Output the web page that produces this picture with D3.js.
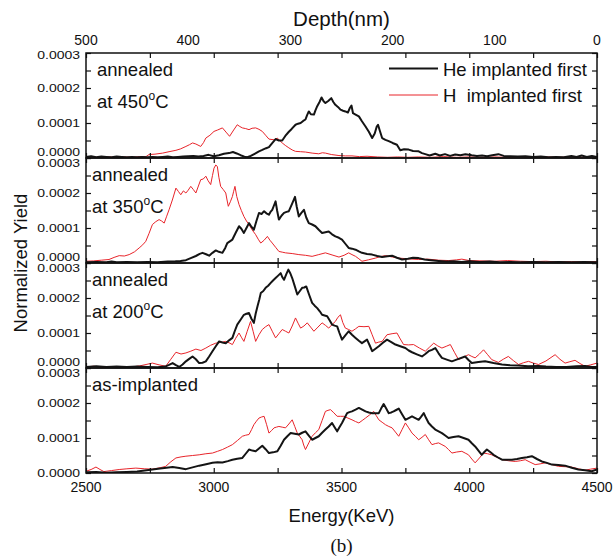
<!DOCTYPE html>
<html><head><meta charset="utf-8">
<script src="https://cdn.jsdelivr.net/npm/d3@7/dist/d3.min.js"></script>
<style>
body{margin:0;background:#fff}
svg text{font-family:"Liberation Sans",Arial,Helvetica,sans-serif;fill:#111}
</style>
</head><body>
<svg id="chart" width="613" height="557"></svg>
<script>
// ---- data (yield values in units of 1e-5) ----
const energyTicks = [2500, 3000, 3500, 4000, 4500];
const energyMinor = [2500, 2750, 3000, 3250, 3500, 3750, 4000, 4250, 4500];
const depthTicks = [500, 400, 300, 200, 100, 0];
const yieldTicks = [0, 10, 20, 30];
const yieldMinor = [0, 5, 10, 15, 20, 25, 30];
const panelTitles = ["annealed", "annealed", "annealed", "as-implanted"];
const panelTemps = ["450", "350", "200", null];
const seriesNames = ["He implanted first", "H  implanted first"];

const he450 = [[2500,0.3],[2520,0.5],[2540,0.2],[2560,0.4],[2580,0.3],[2600,0.2],[2620,0.4],[2640,0.3],[2660,0.2],[2680,0.3],[2700,0.2],[2720,0.3],[2740,0.2],[2760,0.3],[2780,0.2],[2800,0.3],[2820,0.4],[2840,0.2],[2860,0.3],[2880,0.4],[2900,0.5],[2920,0.6],[2940,0.4],[2960,0.6],[2980,0.9],[3000,0.5],[3020,0.8],[3040,1.2],[3060,1.4],[3075,1.7],[3090,1.3],[3105,0.8],[3120,0.4],[3131,0.2],[3145,0.6],[3160,1.2],[3177,1.9],[3190,2.3],[3205,2.8],[3216,3.1],[3228,4.2],[3242,5.4],[3255,5.0],[3268,5.0],[3280,6.3],[3294,7.5],[3305,8.3],[3320,9.5],[3330,9.8],[3340,10],[3350,10.6],[3359,11],[3365,12.2],[3372,13.3],[3380,12.5],[3392,12.4],[3398,13.6],[3405,14.8],[3414,16.0],[3422,17.3],[3430,16.2],[3437,15.7],[3448,16.3],[3460,17.1],[3468,16.0],[3476,15.2],[3486,14.6],[3496,13.8],[3506,13.5],[3515,13.3],[3525,13.0],[3532,14.2],[3539,15.0],[3545,12.8],[3555,12.4],[3568,11.9],[3580,10.5],[3594,9.0],[3607,7.5],[3620,5.7],[3630,7.0],[3638,9.0],[3643,9.5],[3650,7.8],[3659,5.7],[3672,5.2],[3685,4.8],[3700,4.3],[3717,3.8],[3730,2.2],[3745,2.5],[3763,2.4],[3780,2.0],[3802,1.9],[3815,1.4],[3828,1.1],[3845,0.7],[3867,1.2],[3885,0.7],[3905,1.1],[3925,0.6],[3945,1.0],[3965,0.8],[3985,1.1],[4010,0.8],[4030,0.6],[4050,0.7],[4070,0.5],[4090,0.8],[4114,1.1],[4135,0.6],[4160,0.5],[4190,0.4],[4220,0.5],[4250,0.3],[4280,0.4],[4310,0.2],[4340,0.3],[4370,0.2],[4400,0.6],[4420,0.3],[4440,0.7],[4460,0.3],[4480,0.6],[4500,0.3]];

const h450 = [[2500,0.2],[2530,0.3],[2560,0.1],[2590,0.3],[2620,0.2],[2650,0.3],[2680,0.2],[2710,0.4],[2735,0.4],[2747,1.0],[2770,1.1],[2800,1.4],[2825,1.8],[2852,2.2],[2870,2.6],[2891,3.3],[2905,3.8],[2917,4.3],[2930,4.0],[2949,3.3],[2960,4.4],[2969,5.7],[2985,6.5],[3001,7.6],[3015,8.0],[3034,8.6],[3048,7.4],[3062,6.2],[3078,8.0],[3092,9.5],[3102,9.0],[3112,8.6],[3125,8.4],[3138,8.1],[3150,8.5],[3164,8.6],[3177,8.2],[3190,7.6],[3203,6.5],[3216,5.4],[3236,5.2],[3249,5.7],[3258,5.0],[3268,4.3],[3280,3.6],[3294,2.9],[3307,2.3],[3320,1.9],[3340,1.8],[3359,1.7],[3385,1.4],[3411,1.2],[3425,1.5],[3437,1.4],[3460,1.0],[3490,0.7],[3515,0.6],[3541,0.6],[3570,0.4],[3600,0.5],[3640,0.3],[3680,0.2],[3720,0.3],[3760,0.2],[3800,0.3],[3850,0.2],[3900,0.4],[3950,0.2],[4000,0.3],[4050,0.2],[4100,0.3],[4150,0.2],[4200,0.3],[4250,0.2],[4300,0.3],[4350,0.2],[4400,0.3],[4450,0.2],[4500,0.3]];

const he350 = [[2500,0.2],[2540,0.3],[2580,0.2],[2600,0.4],[2620,0.2],[2660,0.3],[2700,0.2],[2740,0.3],[2780,0.2],[2820,0.4],[2850,0.5],[2870,0.6],[2891,0.8],[2910,1.4],[2930,2.0],[2945,2.6],[2956,2.9],[2970,2.5],[2982,2.1],[2995,2.9],[3008,3.6],[3020,3.2],[3034,2.9],[3045,4.3],[3053,5.7],[3063,6.2],[3073,6.7],[3085,8.5],[3099,10.5],[3108,9.8],[3118,8.6],[3128,10.0],[3138,11.4],[3148,10.3],[3157,9.5],[3167,12.0],[3177,14.3],[3187,14.0],[3197,14.8],[3206,14.2],[3216,13.8],[3222,14.6],[3229,15.2],[3236,16.5],[3242,17.6],[3248,15.0],[3255,12.4],[3265,13.5],[3275,14.3],[3285,14.6],[3294,14.8],[3306,16.8],[3318,18.9],[3325,16.0],[3333,13.3],[3343,14.3],[3353,15.2],[3362,13.0],[3372,11.4],[3385,11.0],[3398,10.5],[3411,9.5],[3424,8.6],[3437,8.8],[3450,9.0],[3463,8.2],[3476,7.6],[3490,7.2],[3502,6.7],[3515,5.5],[3528,4.3],[3541,4.1],[3555,3.8],[3568,3.3],[3580,2.9],[3600,2.6],[3620,2.4],[3640,2.0],[3659,1.7],[3680,1.9],[3698,2.1],[3717,1.5],[3737,1.0],[3760,1.2],[3780,1.5],[3802,1.4],[3825,1.0],[3850,0.8],[3880,0.6],[3910,0.4],[3940,0.5],[3970,0.3],[4000,0.5],[4040,0.3],[4080,0.4],[4120,0.2],[4160,0.3],[4200,0.2],[4250,0.3],[4300,0.2],[4350,0.3],[4400,0.2],[4450,0.3],[4500,0.2]];

const h350 = [[2500,0.5],[2530,0.6],[2560,0.8],[2590,1.0],[2610,1.6],[2630,2.1],[2650,2.0],[2669,2.4],[2690,3.2],[2708,4.3],[2722,5.2],[2734,6.2],[2747,8.5],[2760,11.0],[2773,11.8],[2786,12.4],[2796,12.0],[2806,11.4],[2815,13.2],[2825,15.2],[2838,18.0],[2852,21.4],[2862,20.4],[2871,19.5],[2881,20.6],[2891,20.0],[2900,20.8],[2910,21.9],[2920,21.0],[2930,20.0],[2940,22.0],[2949,23.8],[2959,24.0],[2969,24.8],[2978,23.5],[2988,22.4],[2995,25.0],[3001,27.1],[3008,28.0],[3014,27.6],[3020,24.5],[3027,21.9],[3037,21.0],[3047,20.0],[3052,18.0],[3057,16.2],[3065,17.5],[3073,19.0],[3078,20.5],[3083,21.9],[3090,19.0],[3099,16.7],[3108,15.0],[3118,13.3],[3128,12.0],[3138,11.0],[3150,9.5],[3164,8.1],[3174,6.8],[3184,5.7],[3197,6.5],[3210,7.6],[3220,6.5],[3229,5.7],[3242,4.5],[3255,3.3],[3268,3.1],[3281,2.9],[3307,2.7],[3333,2.4],[3359,2.2],[3385,1.9],[3411,2.4],[3437,2.9],[3463,2.3],[3490,1.7],[3510,2.2],[3528,2.9],[3541,2.4],[3555,1.9],[3568,1.2],[3580,0.5],[3605,0.9],[3633,1.4],[3650,1.8],[3672,2.1],[3700,1.7],[3724,1.4],[3760,1.2],[3802,1.0],[3840,1.1],[3880,0.8],[3920,0.7],[3950,0.9],[3971,1.1],[4000,0.7],[4050,0.6],[4100,0.5],[4150,0.7],[4200,0.5],[4250,0.4],[4300,0.5],[4350,0.3],[4400,0.4],[4450,0.3],[4500,0.4]];

const he200 = [[2500,0.3],[2540,0.5],[2580,0.3],[2620,0.4],[2660,0.3],[2700,0.4],[2740,0.3],[2780,0.2],[2810,0.4],[2825,0.9],[2839,1.4],[2852,0.8],[2865,0.3],[2878,1.0],[2891,1.9],[2904,2.6],[2917,3.3],[2930,2.5],[2943,1.4],[2956,1.5],[2969,1.9],[2982,3.3],[2995,4.8],[3008,6.2],[3021,7.6],[3034,7.3],[3047,7.1],[3060,7.9],[3073,8.6],[3082,10.5],[3092,12.4],[3105,13.8],[3118,15.2],[3128,15.5],[3138,15.7],[3148,14.0],[3157,12.9],[3164,15.5],[3171,17.6],[3178,19.5],[3184,21.4],[3194,22.0],[3203,22.9],[3213,23.5],[3223,24.3],[3232,25.0],[3242,25.7],[3252,26.4],[3262,27.1],[3268,26.0],[3275,25.2],[3284,26.8],[3292,28.1],[3300,27.0],[3307,25.7],[3317,23.4],[3327,21.0],[3337,22.0],[3346,22.9],[3354,23.0],[3362,23.3],[3373,21.0],[3385,18.6],[3395,17.8],[3405,17.1],[3415,16.2],[3424,15.2],[3434,15.0],[3444,14.8],[3454,13.6],[3463,12.4],[3473,12.1],[3483,11.9],[3492,10.0],[3502,8.1],[3515,9.3],[3528,10.5],[3541,9.5],[3555,8.6],[3568,7.8],[3580,7.1],[3590,7.6],[3600,8.1],[3610,6.5],[3620,4.8],[3633,5.5],[3646,6.2],[3662,7.2],[3678,8.1],[3695,7.4],[3711,6.7],[3730,6.2],[3750,5.7],[3763,5.0],[3776,4.5],[3795,3.9],[3815,3.3],[3828,4.0],[3841,4.8],[3854,5.2],[3867,5.7],[3880,4.2],[3893,2.9],[3912,2.4],[3932,1.9],[3958,2.6],[3984,3.3],[3997,2.3],[4010,1.4],[4036,1.7],[4062,1.9],[4095,1.4],[4128,1.0],[4160,0.8],[4193,0.7],[4230,0.5],[4270,0.6],[4300,0.4],[4340,0.3],[4380,0.3],[4420,0.5],[4453,0.6],[4480,0.3],[4500,0.3]];

const h200 = [[2500,0.3],[2530,0.5],[2560,0.2],[2590,0.4],[2620,0.3],[2650,0.2],[2680,0.3],[2710,0.6],[2735,1.0],[2760,1.4],[2786,0.9],[2812,0.5],[2832,2.5],[2852,4.5],[2872,4.0],[2891,4.3],[2910,4.8],[2930,5.4],[2950,5.0],[2969,5.7],[2988,6.5],[3008,7.1],[3028,7.3],[3047,7.6],[3060,7.2],[3073,6.7],[3086,8.5],[3099,10.0],[3108,8.8],[3118,7.6],[3131,10.5],[3144,13.3],[3154,10.5],[3164,7.6],[3177,9.5],[3190,11.0],[3203,11.8],[3216,12.4],[3229,10.5],[3242,8.6],[3255,9.8],[3268,11.0],[3281,10.5],[3294,10.0],[3307,12.0],[3320,14.3],[3330,12.8],[3340,11.4],[3353,12.0],[3366,12.9],[3379,11.7],[3392,10.5],[3408,11.7],[3424,12.9],[3437,12.2],[3450,11.4],[3463,12.4],[3476,13.3],[3486,14.5],[3496,15.2],[3505,13.0],[3515,11.4],[3528,11.0],[3541,10.5],[3555,11.2],[3568,11.9],[3588,11.8],[3607,11.9],[3620,9.5],[3633,7.1],[3646,7.4],[3659,7.6],[3668,8.5],[3678,9.5],[3698,9.8],[3717,10.0],[3730,8.3],[3743,6.7],[3763,6.6],[3782,6.7],[3805,5.7],[3828,4.8],[3845,6.0],[3861,7.1],[3877,6.3],[3893,5.7],[3910,6.2],[3926,6.7],[3942,4.5],[3958,2.4],[3978,3.1],[3997,3.8],[4010,3.3],[4023,2.9],[4040,4.0],[4056,5.2],[4072,3.8],[4088,2.4],[4101,2.0],[4114,1.6],[4133,2.5],[4153,3.3],[4173,2.1],[4193,1.0],[4212,1.5],[4232,1.9],[4251,1.4],[4271,1.0],[4300,2.0],[4320,3.0],[4336,3.8],[4355,2.5],[4375,1.4],[4394,1.8],[4414,2.2],[4433,1.3],[4453,0.5],[4475,0.9],[4500,1.4]];

const heAs = [[2500,0.2],[2540,0.3],[2580,0.1],[2620,0.2],[2660,0.3],[2700,0.4],[2730,0.7],[2760,1.0],[2790,1.3],[2815,1.5],[2839,1.7],[2865,1.4],[2891,1.1],[2917,1.6],[2943,2.1],[2970,2.5],[2995,2.9],[3015,3.1],[3034,3.0],[3055,3.4],[3073,3.8],[3092,4.1],[3112,4.3],[3125,5.5],[3138,6.7],[3151,6.4],[3164,6.2],[3177,7.0],[3190,7.8],[3203,6.8],[3216,5.7],[3232,5.9],[3249,6.2],[3262,7.8],[3275,9.5],[3288,10.5],[3301,11.4],[3317,11.2],[3333,11.0],[3346,11.5],[3359,11.9],[3372,10.7],[3385,9.5],[3398,10.0],[3411,10.5],[3424,11.5],[3437,12.4],[3450,13.3],[3463,14.3],[3473,13.1],[3483,11.9],[3492,13.1],[3502,14.3],[3512,15.7],[3522,17.1],[3531,17.4],[3541,17.6],[3555,18.1],[3568,18.6],[3581,18.1],[3594,17.6],[3607,17.3],[3620,17.1],[3633,17.1],[3646,17.1],[3655,18.4],[3665,19.7],[3675,18.4],[3685,17.1],[3695,17.3],[3704,17.6],[3714,18.0],[3724,18.4],[3737,16.8],[3750,15.2],[3763,15.7],[3776,16.2],[3789,15.7],[3802,15.2],[3812,16.1],[3822,17.1],[3831,15.7],[3841,14.3],[3854,13.3],[3867,12.4],[3880,11.9],[3893,11.4],[3906,10.7],[3919,10.0],[3938,10.3],[3958,10.5],[3978,10.0],[3997,9.5],[4010,8.5],[4023,7.6],[4036,6.4],[4049,5.2],[4059,6.0],[4069,6.7],[4082,6.0],[4095,5.2],[4111,4.5],[4128,3.8],[4148,3.8],[4167,3.8],[4187,4.0],[4206,4.3],[4226,4.5],[4245,4.8],[4265,4.0],[4284,3.3],[4304,2.9],[4323,2.4],[4349,2.3],[4375,2.1],[4401,1.5],[4427,1.0],[4453,0.8],[4479,0.5],[4500,1.0]];

const hAs = [[2500,0.5],[2520,1.0],[2539,1.7],[2555,1.0],[2570,0.4],[2600,0.7],[2630,1.0],[2660,1.2],[2695,1.4],[2730,1.2],[2760,1.1],[2790,1.5],[2812,1.9],[2832,3.2],[2852,4.3],[2872,4.6],[2891,4.8],[2917,5.0],[2943,5.2],[2969,5.5],[2995,5.7],[3015,6.2],[3034,6.7],[3054,7.4],[3073,8.1],[3093,9.3],[3112,10.5],[3125,10.8],[3138,11.0],[3148,12.4],[3157,13.8],[3167,14.8],[3177,15.7],[3187,16.0],[3197,16.2],[3207,13.8],[3216,11.4],[3226,12.1],[3236,12.9],[3245,13.1],[3255,13.3],[3268,13.1],[3281,12.9],[3294,14.0],[3307,15.2],[3317,13.3],[3327,11.4],[3336,10.5],[3346,9.5],[3352,8.0],[3359,6.7],[3372,8.6],[3385,10.5],[3398,11.5],[3411,12.4],[3424,15.0],[3437,17.6],[3447,17.9],[3457,18.1],[3470,17.2],[3483,16.2],[3496,16.2],[3509,16.2],[3525,15.7],[3541,15.2],[3555,14.7],[3568,14.3],[3581,15.0],[3594,15.7],[3610,16.6],[3626,17.6],[3636,16.4],[3646,15.2],[3659,14.5],[3672,13.8],[3685,13.3],[3698,12.9],[3711,11.7],[3724,10.5],[3737,12.4],[3750,14.3],[3763,12.9],[3776,11.4],[3789,10.5],[3802,9.5],[3815,10.2],[3828,11.0],[3841,9.5],[3854,8.1],[3867,8.4],[3880,8.6],[3893,8.1],[3906,7.6],[3919,6.7],[3932,5.7],[3951,6.0],[3971,6.2],[3984,5.7],[3997,5.2],[4010,4.0],[4023,2.9],[4040,4.3],[4056,5.7],[4072,5.5],[4088,5.2],[4108,4.5],[4128,3.8],[4154,3.5],[4180,3.3],[4200,3.5],[4219,3.8],[4238,3.1],[4258,2.4],[4277,2.6],[4297,2.9],[4323,2.4],[4349,1.9],[4375,1.8],[4401,1.7],[4427,1.2],[4453,0.8],[4475,1.1],[4500,1.4]];

const blackSeries = [he450, he350, he200, heAs];
const redSeries = [h450, h350, h200, hAs];

// ---- layout ----
const L = 86, R = 597, T = 53, PH = 105;
const BLACK = "#141414", RED = "#e8242a";
const svg = d3.select("#chart");

const x = d3.scaleLinear().domain([2500, 4500]).range([L, R]);
const depth = d3.scaleLinear().domain([500, 0]).range([L, R]);
const fmtY = v => (v * 1e-5).toFixed(4);

panelTitles.forEach((title, i) => {
  const top = T + i * PH, bottom = top + PH;
  const y = d3.scaleLinear().domain([0, 30]).range([bottom, top]);
  const g = svg.append("g");

  g.append("clipPath").attr("id", "clip" + i)
    .append("rect").attr("x", L).attr("y", top).attr("width", R - L).attr("height", PH);

  const line = d3.line().x(d => x(d[0])).y(d => y(d[1]));
  const plot = g.append("g").attr("clip-path", `url(#clip${i})`);
  plot.append("path").datum(redSeries[i]).attr("d", line)
    .attr("fill", "none").attr("stroke", RED).attr("stroke-width", 1).attr("stroke-linejoin", "round");
  plot.append("path").datum(blackSeries[i]).attr("d", line)
    .attr("fill", "none").attr("stroke", BLACK).attr("stroke-width", 2).attr("stroke-linejoin", "round");

  // inward ticks
  const tickStyle = sel => { sel.select(".domain").remove(); sel.selectAll("line").attr("stroke", "#111").attr("stroke-width", 1.2); };
  g.append("g").attr("transform", `translate(0,${bottom})`)
    .call(d3.axisBottom(x).tickValues(energyMinor).tickSize(-5).tickFormat("")).call(tickStyle);
  g.append("g").attr("transform", `translate(0,${top})`)
    .call(d3.axisTop(x).tickValues(energyMinor).tickSize(-5).tickFormat("")).call(tickStyle);
  g.append("g").attr("transform", `translate(${L},0)`)
    .call(d3.axisLeft(y).tickValues(yieldMinor).tickSize(-5).tickFormat("")).call(tickStyle);
  g.append("g").attr("transform", `translate(${R},0)`)
    .call(d3.axisRight(y).tickValues(yieldMinor).tickSize(-5).tickFormat("")).call(tickStyle);

  // frame
  g.append("rect").attr("x", L).attr("y", top).attr("width", R - L).attr("height", PH)
    .attr("fill", "none").attr("stroke", "#111").attr("stroke-width", 1.5);

  // y tick labels (vertically squeezed as in the original)
  yieldTicks.forEach(v => {
    let cy = y(v);
    if (v === 30) cy += (i === 0 ? 2 : 5.8);
    if (v === 0 && i < 3) cy -= 5.8;
    g.append("text").attr("transform", `translate(${L - 6},${cy}) scale(1,0.72)`)
      .attr("dy", "0.36em").attr("text-anchor", "end").attr("font-size", 14).text(fmtY(v));
  });

  // panel labels
  const lx = i === 0 ? 97 : 92;
  g.append("text").attr("x", lx).attr("y", top + 23).attr("font-size", 18.5).text(title);
  if (panelTemps[i]) {
    const t = g.append("text").attr("x", lx).attr("y", top + 55).attr("font-size", 18.5);
    t.append("tspan").text("at " + panelTemps[i]);
    t.append("tspan").attr("font-size", 12).attr("dy", -8).text("o");
    t.append("tspan").attr("dy", 8).text("C");
  }
});

// bottom energy labels
energyTicks.forEach(v => {
  svg.append("text").attr("x", x(v)).attr("y", T + 4 * PH + 19).attr("text-anchor", "middle")
    .attr("font-size", 14).text(v);
});
// top depth labels
depthTicks.forEach(v => {
  svg.append("text").attr("x", depth(v)).attr("y", 45).attr("text-anchor", "middle")
    .attr("font-size", 14).text(v);
});

// axis titles
svg.append("text").attr("x", (L + R) / 2).attr("y", 26).attr("text-anchor", "middle")
  .attr("font-size", 20.5).text("Depth(nm)");
svg.append("text").attr("x", (L + R) / 2).attr("y", 522).attr("text-anchor", "middle")
  .attr("font-size", 18.5).text("Energy(KeV)");
svg.append("text").attr("transform", `translate(27,${T + 2 * PH}) rotate(-90)`)
  .attr("text-anchor", "middle").attr("font-size", 18.5).text("Normalized Yield");
svg.append("text").attr("x", (L + R) / 2).attr("y", 552).attr("text-anchor", "middle")
  .attr("font-size", 19).style("font-family", "'Liberation Serif','Times New Roman',serif").text("(b)");

// legend
const legendColors = [BLACK, RED];
const legendWidths = [2, 1];
seriesNames.forEach((name, k) => {
  const ly = [68.5, 95][k];
  svg.append("line").attr("x1", 389).attr("x2", 438).attr("y1", ly).attr("y2", ly)
    .attr("stroke", legendColors[k]).attr("stroke-width", legendWidths[k]);
  svg.append("text").attr("x", 443).attr("y", ly + 7).attr("font-size", 18.5)
    .attr("xml:space", "preserve").style("white-space", "pre").text(name);
});
</script>
</body></html>
